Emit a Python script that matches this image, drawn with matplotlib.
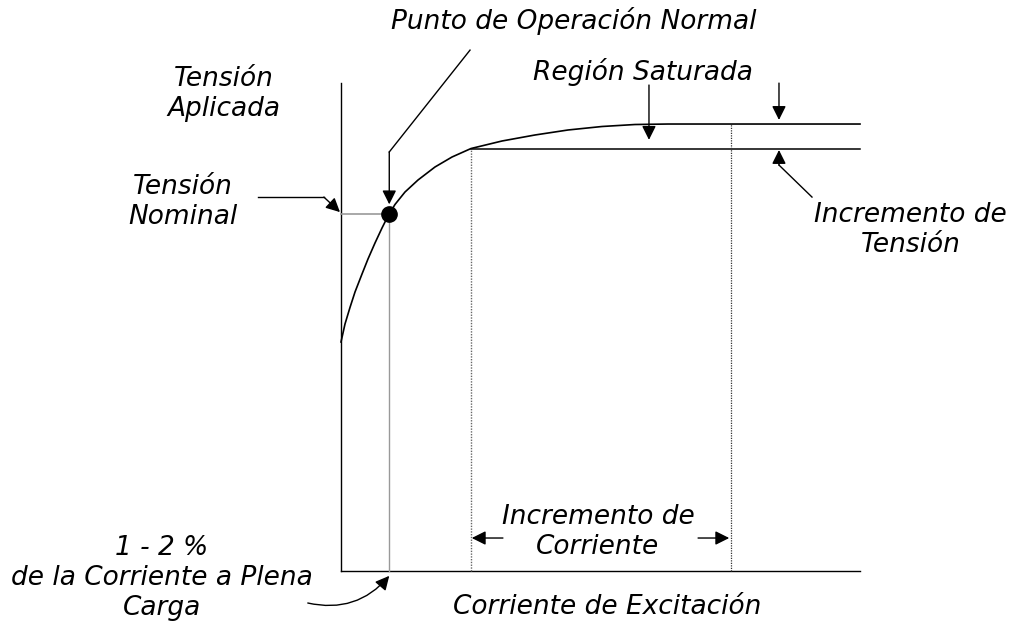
import matplotlib
matplotlib.use("Agg")
import matplotlib.pyplot as plt
from matplotlib.patches import FancyArrowPatch

# ---------------- data (arbitrary units: x = excitation current, y = applied voltage) -------------
curve_x = [0, 0.77, 1.73, 2.70, 4.05, 5.20, 6.55, 7.90, 9.06, 10.40, 12.33, 14.84, 18.11,
           21.39, 25.05, 31.02, 37.38, 43.74, 50.29, 56.65, 63.01, 100]
curve_y = [47.22, 50.93, 54.33, 57.53, 61.24, 64.33, 67.63, 70.72, 73.20, 75.57, 78.14, 80.62,
           83.30, 85.36, 87.11, 88.66, 89.90, 90.93, 91.65, 92.06, 92.16, 92.16]

op_x, op_y = 9.3, 73.6          # normal operating point
knee_x, knee_y = 25.05, 87.11   # start of saturated region
sat_y = 92.16                   # saturated voltage
sat_end_x = 75.1                # end of current increment
axis_x_max, axis_y_max = 100, 100.6

labels = {
    "punto": "Punto de Operación Normal",
    "region": "Región Saturada",
    "aplicada": "Tensión\nAplicada",
    "nominal": "Tensión\nNominal",
    "inc_tension": "Incremento de\nTensión",
    "inc_corriente": "Incremento de\nCorriente",
    "porcentaje": "1 - 2 %\nde la Corriente a Plena\nCarga",
    "excitacion": "Corriente de Excitación",
}

# ---------------- figure ----------------
W, H = 1013, 625
fig = plt.figure(figsize=(W / 100, H / 100), dpi=100)
ax = fig.add_axes([0, 0, 1, 1])
sx, sy = 5.19, 4.85   # px per unit
ox, oy = 341, 571     # origin pixel
ax.set_xlim(-ox / sx, (W - ox) / sx)
ax.set_ylim(-(H - oy) / sy, oy / sy)
ax.axis("off")

FS = 19
tkw = dict(fontsize=FS, style="italic", ha="center", va="center", color="black",
           family="DejaVu Sans", linespacing=1.2)

# axes
ax.plot([0, 0], [0, axis_y_max], color="black", lw=1.0)
ax.plot([0, axis_x_max], [0, 0], color="black", lw=1.0)

# curve + saturated lines
ax.plot(curve_x, curve_y, color="black", lw=1.2, solid_joinstyle="round")
ax.plot([knee_x, axis_x_max], [knee_y, knee_y], color="black", lw=1.1)

# guide lines
ax.plot([0, op_x], [op_y, op_y], color="#999999", lw=1.2)
ax.plot([op_x, op_x], [0, op_y], color="#999999", lw=1.0)
ax.plot([knee_x, knee_x], [0, knee_y], color="#666666", lw=1.0, ls=(0, (1, 1)))
ax.plot([sat_end_x, sat_end_x], [0, sat_y], color="#333333", lw=0.9, ls=(0, (1, 1)))

# operating point
ax.plot([op_x], [op_y], "o", color="black", ms=11)

akw = dict(arrowstyle="-|>,head_length=0.7,head_width=0.35", color="black", lw=1.0,
           shrinkA=0, shrinkB=0, mutation_scale=12)

# Punto de Operación Normal
ax.plot([24.86, 9.3], [107.4, 86.4], color="black", lw=1.0)
ax.annotate("", xy=(9.3, 75.6), xytext=(9.3, 86.4), arrowprops=akw)
ax.text(44.9, 113.4, labels["punto"], **tkw)

# Tensión Nominal
ax.plot([-16.0, -3.3], [77.1, 77.1], color="black", lw=1.0)
ax.annotate("", xy=(-0.2, 74.0), xytext=(-3.3, 77.1), arrowprops=akw)
ax.text(-30.4, 76.1, labels["nominal"], **tkw)

ax.text(-22.6, 98.4, labels["aplicada"], **tkw)

# Región Saturada
ax.annotate("", xy=(59.34, 88.9), xytext=(59.34, 100.2), arrowprops=akw)
ax.text(58.2, 102.9, labels["region"], **tkw)

# Incremento de Tensión
ax.annotate("", xy=(84.39, 93.0), xytext=(84.39, 100.6), arrowprops=akw)
ax.plot([90.75, 84.39], [77.1, 83.7], color="black", lw=1.0)
ax.annotate("", xy=(84.39, 86.8), xytext=(84.39, 83.7), arrowprops=akw)
ax.text(109.8, 70.3, labels["inc_tension"], **tkw)

# Incremento de Corriente
ax.annotate("", xy=(25.2, 6.8), xytext=(31.2, 6.8), arrowprops=akw)
ax.annotate("", xy=(74.8, 6.8), xytext=(68.8, 6.8), arrowprops=akw)
ax.text(49.5, 8.0, labels["inc_corriente"], **tkw)

# 1 - 2 % curved arrow
arr = FancyArrowPatch((-6.4, -6.6), (9.3, -1.0), connectionstyle="arc3,rad=0.3", **akw)
ax.add_patch(arr)
ax.text(-34.5, -1.4, labels["porcentaje"], **tkw)

ax.text(51.3, -7.4, labels["excitacion"], **tkw)

fig.savefig("out.png", dpi=100)
